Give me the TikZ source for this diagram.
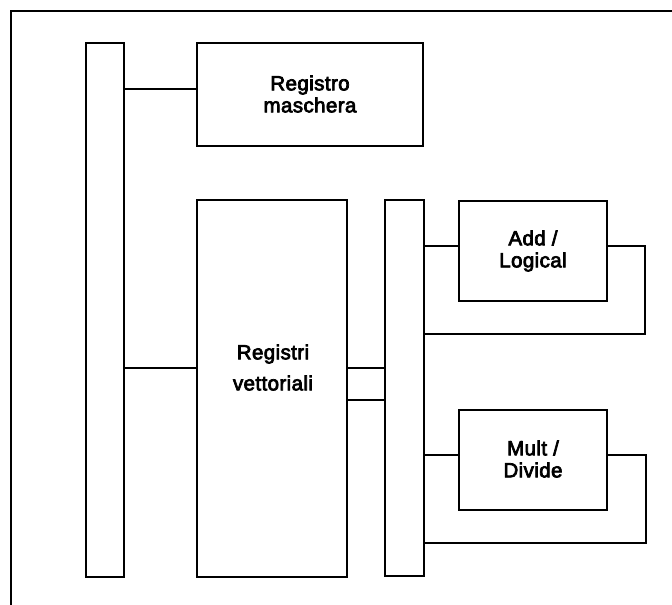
\documentclass[tikz,border=0pt]{standalone}
\usepackage{fontspec}
\setmainfont{Liberation Sans}
\newfontfamily\lblfont{Liberation Sans}[FakeBold=3.5,LetterSpace=2]
\begin{document}
\begin{tikzpicture}[x=1pt,y=-1pt,
  box/.style={draw,line width=1.5pt,inner sep=0pt,anchor=center},
  lbl/.style={font=\lblfont\fontsize{20.5}{22}\selectfont,align=center,inner sep=0pt},
  wire/.style={line width=1.5pt,line join=miter}]
\useasboundingbox (0,0) rectangle (672,605);
% frame
\coordinate (fbl) at (11,605);
\coordinate (ftl) at (11,11);
\coordinate (ftr) at (672,11);
\draw[line width=1.6pt] (fbl) -- (ftl) -- (ftr);
% boxes
\node[box,minimum width=38pt,minimum height=534pt] (lb) at (105,310) {};
\node[box,minimum width=226pt,minimum height=103pt] (rm) at (310,94.5) {};
\node[lbl] (rmt) at (310,94) {Registro\\maschera};
\node[box,minimum width=150pt,minimum height=377pt] (rv) at (272,388.5) {};
\node[lbl,font=\lblfont\fontsize{20.5}{31}\selectfont] (rvt) at (273,367.5) {Registri\\vettoriali};
\node[box,minimum width=39pt,minimum height=376pt] (rb) at (404.5,388) {};
\node[box,minimum width=148pt,minimum height=100pt] (add) at (533,251) {};
\node[lbl] (addt) at (533,251) {Add /\\Logical};
\node[box,minimum width=148pt,minimum height=100pt] (mul) at (533,460) {};
\node[lbl] (mult) at (533,459) {Mult /\\Divide};
% loop corners
\coordinate (a1) at (645,246);
\coordinate (a2) at (645,334);
\coordinate (m1) at (646,455);
\coordinate (m2) at (646,543);
% connectors
\draw[wire] (lb.east |- 0,89) -- (rm.west |- 0,89);
\draw[wire] (lb.east |- 0,368) -- (rv.west |- 0,368);
\draw[wire] (rv.east |- 0,368) -- (rb.west |- 0,368);
\draw[wire] (rv.east |- 0,400) -- (rb.west |- 0,400);
\draw[wire] (rb.east |- a1) -- (add.west |- a1);
\draw[wire] (add.east |- a1) -- (a1) -- (a2) -- (rb.east |- a2);
\draw[wire] (rb.east |- m1) -- (mul.west |- m1);
\draw[wire] (mul.east |- m1) -- (m1) -- (m2) -- (rb.east |- m2);
\end{tikzpicture}
\end{document}
